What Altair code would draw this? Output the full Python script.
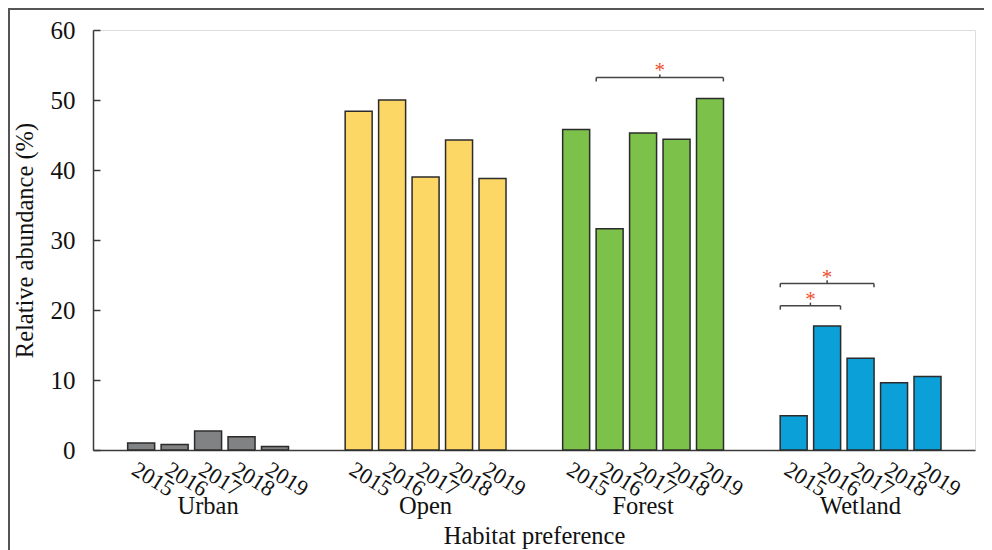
import altair as alt
import pandas as pd

habitats = ["Urban", "Open", "Forest", "Wetland"]
years = ["2015", "2016", "2017", "2018", "2019"]
urban = [1.0, 0.8, 2.7, 1.9, 0.5]
open_ = [48.4, 50.0, 39.0, 44.3, 38.8]
forest = [45.8, 31.6, 45.3, 44.4, 50.2]
wetland = [4.9, 17.7, 13.1, 9.6, 10.5]
colors = ["#808284", "#FDD766", "#7CC24A", "#0BA0D8"]

# significance brackets: habitat, first year, last year, bracket level, star level
br_habitat = ["Forest", "Wetland", "Wetland"]
br_start = ["2016", "2015", "2015"]
br_end = ["2019", "2016", "2017"]
br_level = [53.2, 20.6, 23.8]
br_star = [54.7, 22.0, 25.1]

GROUP_STEP = 6.5
HALF = 0.4
W, H = 882, 420
FONT = "Liberation Serif"

series = [urban, open_, forest, wetland]
rows = []
for gi, h in enumerate(habitats):
    for yi, y in enumerate(years):
        rows.append({"habitat": h, "year": y, "value": series[gi][yi],
                     "pos": gi * GROUP_STEP + yi})
bars_df = pd.DataFrame(rows)

groups_df = pd.DataFrame({"habitat": habitats,
                          "pos": [gi * GROUP_STEP + 2 for gi in range(len(habitats))]})

brs = []
for h, s, e, lv, st in zip(br_habitat, br_start, br_end, br_level, br_star):
    gi = habitats.index(h)
    x1 = gi * GROUP_STEP + years.index(s) - HALF
    x2 = gi * GROUP_STEP + years.index(e) + HALF
    brs.append({"x1": x1, "x2": x2, "mid": (x1 + x2) / 2, "level": lv,
                "down": lv - 0.55, "up": lv + 0.45, "star": st, "t": "*"})
br_df = pd.DataFrame(brs)

xscale = alt.Scale(domain=[-1.29, 24.77], nice=False, zero=False)
yscale = alt.Scale(domain=[0, 60], nice=False, zero=True)

xaxis = alt.Axis(title="Habitat preference", labels=False, ticks=False, grid=False,
                 domainColor="#3a3a3a", domainWidth=1.5, titleFont=FONT,
                 titleFontSize=24.5, titleFontWeight="normal", titleColor="#111",
                 titleY=86, titleBaseline="middle")
yaxis = alt.Axis(title="Relative abundance (%)", values=[0, 10, 20, 30, 40, 50, 60],
                 grid=False, domainColor="#3a3a3a", domainWidth=1.5,
                 tickColor="#3a3a3a", tickWidth=1.5, tickSize={"expr": "-7"},
                 labelFont=FONT, labelFontSize=25, labelColor="#111", labelPadding=25,
                 titleFont=FONT, titleFontSize=24.5, titleFontWeight="normal",
                 titleColor="#111", titleX=-68, titleY=210, titleBaseline="middle")

bars = alt.Chart(bars_df).mark_bar(width=27, stroke="#2b2b2b", strokeWidth=1.5).encode(
    x=alt.X("pos:Q", scale=xscale, axis=xaxis),
    y=alt.Y("value:Q", scale=yscale, axis=yaxis),
    fill=alt.Fill("habitat:N", scale=alt.Scale(domain=habitats, range=colors), legend=None),
)

year_labels = alt.Chart(bars_df).mark_text(
    angle=32, align="center", baseline="middle", dx=14, fontSize=22.5, font=FONT, color="#111"
).encode(x=alt.X("pos:Q", scale=xscale), y=alt.value(442), text="year:N")

group_labels = alt.Chart(groups_df).mark_text(
    align="center", baseline="middle", fontSize=24.5, font=FONT, color="#111"
).encode(x=alt.X("pos:Q", scale=xscale), y=alt.value(477), text="habitat:N")

br_base = alt.Chart(br_df)
br_h = br_base.mark_rule(color="#444", strokeWidth=1.5).encode(
    x=alt.X("x1:Q", scale=xscale), x2="x2:Q", y=alt.Y("level:Q", scale=yscale))
br_l = br_base.mark_rule(color="#444", strokeWidth=1.5).encode(
    x=alt.X("x1:Q", scale=xscale), y=alt.Y("level:Q", scale=yscale), y2="down:Q")
br_r = br_base.mark_rule(color="#444", strokeWidth=1.5).encode(
    x=alt.X("x2:Q", scale=xscale), y=alt.Y("level:Q", scale=yscale), y2="down:Q")
br_c = br_base.mark_rule(color="#444", strokeWidth=1.5).encode(
    x=alt.X("mid:Q", scale=xscale), y=alt.Y("level:Q", scale=yscale), y2="up:Q")
stars = br_base.mark_text(color="#EF4F2F", fontSize=21, font=FONT, baseline="middle",
                          align="center", dy=4).encode(
    x=alt.X("mid:Q", scale=xscale), y=alt.Y("star:Q", scale=yscale), text="t:N")

one = pd.DataFrame({"a": [0]})
frame_left = alt.Chart(one).mark_rule(color="#555", strokeWidth=2).encode(
    x=alt.value(-84), y=alt.value(-22), y2=alt.value(H + 110))
frame_top = alt.Chart(one).mark_rule(color="#555", strokeWidth=2).encode(
    x=alt.value(-85), x2=alt.value(W + 10), y=alt.value(-21))

chart = alt.layer(
    bars, year_labels, group_labels, br_h, br_l, br_r, br_c, stars, frame_left, frame_top
).properties(
    width=W, height=H, autosize="none",
    padding={"left": 85, "top": 22, "right": 9, "bottom": 110},
).configure_view(stroke=None).configure(font=FONT)

chart.save("out.html", embed_options={"renderer": "svg", "actions": False})
